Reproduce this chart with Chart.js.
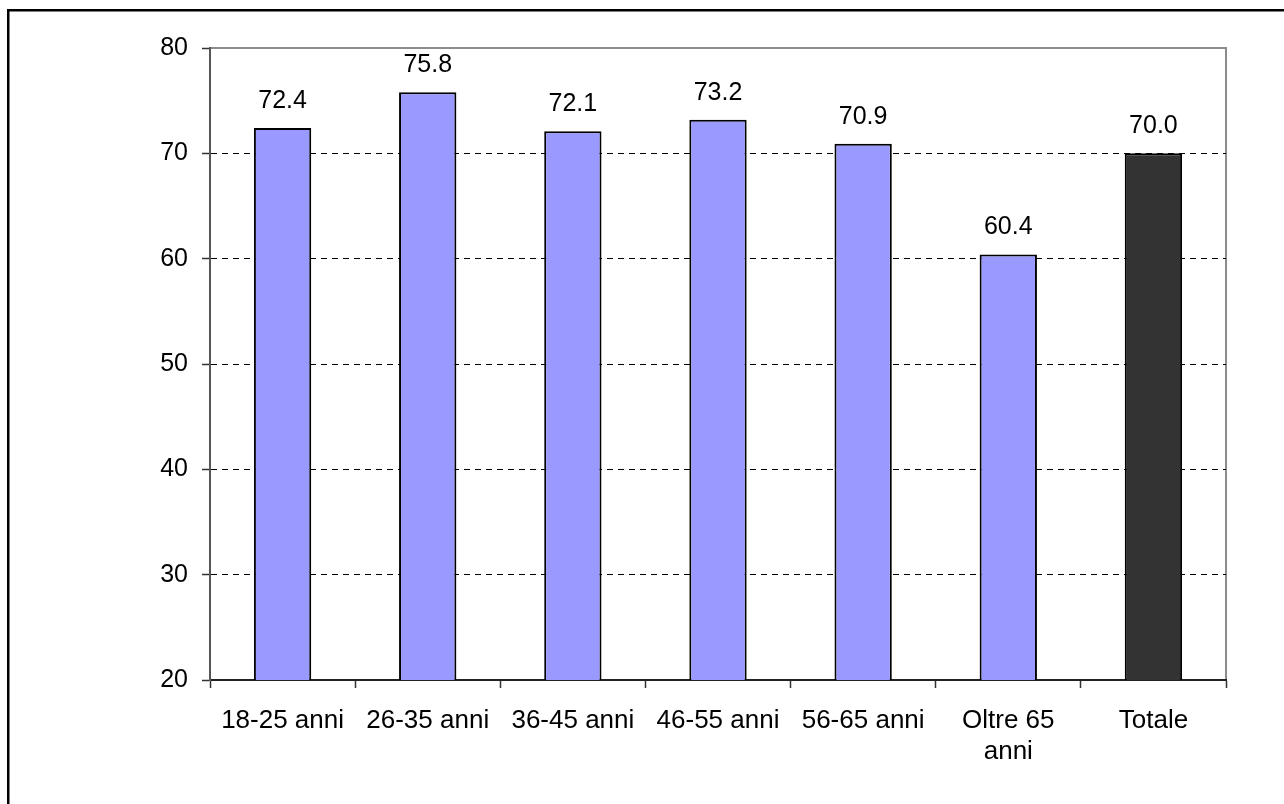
<!DOCTYPE html>
<html>
<head>
<meta charset="utf-8">
<title>Fasce di età</title>
<script src="https://cdn.jsdelivr.net/npm/chart.js@4/dist/chart.umd.min.js"></script>
<style>
    html, body { margin: 0; padding: 0; background: #ffffff; }
    #wrap { position: relative; width: 1284px; height: 804px; }
</style>
</head>
<body>
<div id="wrap"><canvas id="etaChart" width="1284" height="804"></canvas></div>
<script>
    "use strict";

    var categorie = [["18-25 anni"], ["26-35 anni"], ["36-45 anni"], ["46-55 anni"], ["56-65 anni"], ["Oltre 65", "anni"], ["Totale"]];
    var valori = [72.4, 75.8, 72.1, 73.2, 70.9, 60.4, 70.0];
    var colori = ["#9999ff", "#9999ff", "#9999ff", "#9999ff", "#9999ff", "#9999ff", "#333333"];
    var tickY = [20, 30, 40, 50, 60, 70, 80];

    var FONT = "'Liberation Sans', Arial, sans-serif";

    // cornice esterna e bordo grigio dell'area del grafico
    var cornice = {
        id: 'cornice',
        beforeDraw: function (chart) {
            var ctx = chart.ctx;
            var a = chart.chartArea;
            ctx.save();
            ctx.fillStyle = '#000000';
            ctx.fillRect(7, 9, 1284, 2.5);
            ctx.fillRect(7, 9, 2.5, 804);
            ctx.strokeStyle = '#8c8c8c';
            ctx.lineWidth = 2;
            ctx.beginPath();
            ctx.moveTo(a.left, a.top);
            ctx.lineTo(a.right, a.top);
            ctx.lineTo(a.right, a.bottom);
            ctx.stroke();
            ctx.restore();
        }
    };

    // etichette con il valore sopra ogni barra
    var etichette = {
        id: 'etichette',
        afterDatasetsDraw: function (chart) {
            var ctx = chart.ctx;
            var meta = chart.getDatasetMeta(0);
            ctx.save();
            ctx.font = '25px ' + FONT;
            ctx.fillStyle = '#000000';
            ctx.textAlign = 'center';
            ctx.textBaseline = 'alphabetic';
            meta.data.forEach(function (bar, i) {
                ctx.fillText(valori[i].toFixed(1), bar.x, bar.y - 20);
            });
            ctx.restore();
        }
    };

    var ctx = document.getElementById('etaChart').getContext('2d');

    new Chart(ctx, {
        type: 'bar',
        data: {
            labels: categorie,
            datasets: [{
                data: valori,
                backgroundColor: colori,
                borderColor: '#000000',
                borderWidth: 2,
                barPercentage: 0.395,
                categoryPercentage: 1.0
            }]
        },
        options: {
            responsive: false,
            animation: false,
            devicePixelRatio: 1,
            layout: { padding: { top: 48, right: 58, left: 0, bottom: 0 } },
            plugins: {
                legend: { display: false },
                tooltip: { enabled: false }
            },
            scales: {
                x: {
                    afterFit: function (scale) { scale.height = 124; },
                    grid: {
                        offset: true,
                        drawOnChartArea: false,
                        drawTicks: true,
                        tickLength: 8,
                        tickColor: '#333333',
                        tickWidth: 1.5
                    },
                    border: { display: true, color: '#222222', width: 2 },
                    ticks: {
                        color: '#000000',
                        font: { family: FONT, size: 26, lineHeight: 1.2 },
                        padding: 17,
                        maxRotation: 0,
                        autoSkip: false
                    }
                },
                y: {
                    min: 20,
                    max: 80,
                    afterFit: function (scale) { scale.width = 210; },
                    afterBuildTicks: function (scale) {
                        scale.ticks = tickY.map(function (v) { return { value: v }; });
                    },
                    grid: {
                        color: function (c) {
                            var v = c.tick ? c.tick.value : null;
                            return (v === 20 || v === 80) ? 'rgba(0,0,0,0)' : '#000000';
                        },
                        lineWidth: 1,
                        drawTicks: true,
                        tickLength: 8,
                        tickColor: '#333333',
                        tickWidth: 1.5,
                        tickBorderDash: []
                    },
                    border: { display: true, color: '#555555', width: 2, dash: [6, 5] },
                    ticks: {
                        color: '#000000',
                        font: { family: FONT, size: 25 },
                        padding: 14
                    }
                }
            }
        },
        plugins: [cornice, etichette]
    });
</script>
</body>
</html>
